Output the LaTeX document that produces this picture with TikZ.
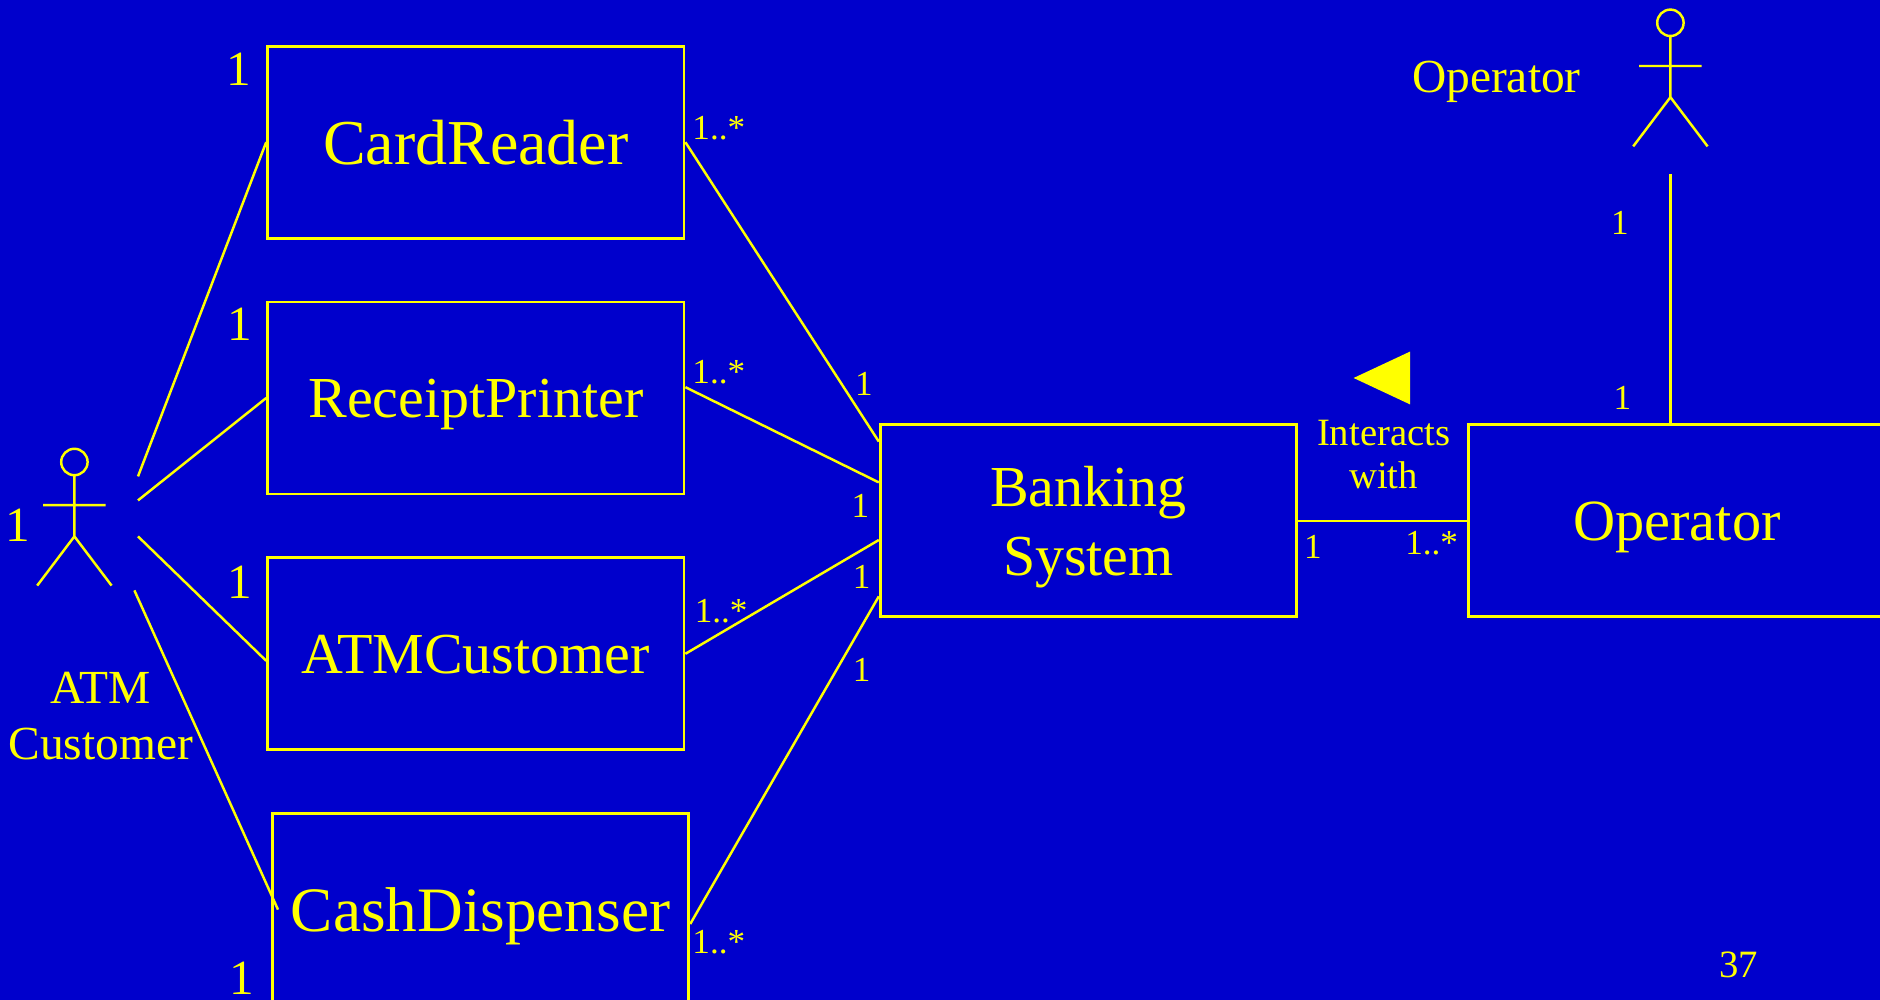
\documentclass[tikz,border=0pt]{standalone}
\usepackage{fontspec}
\setmainfont{Liberation Serif}
\usetikzlibrary{matrix}
\definecolor{slideblue}{RGB}{0,0,204}
\definecolor{umlyellow}{RGB}{255,255,0}

\begin{document}
\begin{tikzpicture}[
    box/.style={draw=umlyellow, line width=0.8pt, text=umlyellow, text depth=0pt,
      minimum width=4.164cm, minimum height=1.92cm, font=\fontsize{16.5}{19.8}\selectfont},
    mult/.style={text=umlyellow, inner sep=0pt, font=\fontsize{10}{12}\selectfont},
    bigmult/.style={text=umlyellow, inner sep=0pt, font=\fontsize{14}{16}\selectfont},
    actorlabel/.style={text=umlyellow, inner sep=0pt, align=center, font=\fontsize{13.5}{16}\selectfont},
    assoc/.style={draw=umlyellow, line width=0.7pt},
    actor/.pic={
      \draw[umlyellow, line width=0.7pt] (0,0) circle (0.132)
        (0,-0.144) -- (0,-0.744) (-0.312,-0.432) -- (0.312,-0.432)
        (-0.372,-1.236) -- (0,-0.744) -- (0.372,-1.236);
    }
  ]
  \useasboundingbox (0,0) rectangle (18.8,-10);
  \clip (0,0) rectangle (18.8,-10);
  \fill[slideblue] (0,0) rectangle (18.8,-10);

  \matrix (m) [matrix of nodes, row sep=0.61cm, nodes={box}] at (4.782,-5.259)
  {
    |[font=\fontsize{18.2}{20}\selectfont](card)| CardReader \\
    |(printer)| ReceiptPrinter \\
    |(atmc)| ATMCustomer \\
    |[xshift=0.048cm, font=\fontsize{18}{20}\selectfont](cash)| CashDispenser \\};
  \node[box, align=center] (bank) at (10.884,-5.208) {Banking\\System};
  \node[box, font=\fontsize{16.6}{20}\selectfont] (oper) at (16.77,-5.208) {Operator};

  % actors
  \pic at (0.744,-4.62) {actor};
  \pic at (16.704,-0.228) {actor};
  \node[actorlabel] (custlabel) at (1.008,-7.164) {ATM\\Customer};
  \node[actorlabel] (oplabel) at (14.964,-0.816) {Operator};
  \coordinate (c1) at (1.38,-4.764);
  \coordinate (c2) at (1.38,-5.004);
  \coordinate (c3) at (1.38,-5.364);
  \coordinate (c4) at (1.344,-5.904);
  \coordinate (opfoot) at (16.704,-1.74);

  \path[assoc]
    (c1) edge (card.west)
    (c2) edge (printer.west)
    (c3) edge ([yshift=-0.07cm]atmc.west)
    (c4) edge ([xshift=0.07cm]cash.west)
    (card.east) edge ([yshift=0.792cm]bank.west)
    ([yshift=0.108cm]printer.east) edge ([yshift=0.384cm]bank.west)
    (atmc.east) edge ([yshift=-0.192cm]bank.west)
    ([yshift=-0.144cm]cash.east) edge ([yshift=-0.756cm]bank.west)
    (bank.east) edge (oper.west)
    (opfoot) edge (opfoot |- oper.north);

  % multiplicities
  \node[bigmult] at (0.18,-5.256) {1};
  \node[bigmult] at (2.388,-0.696) {1};
  \node[bigmult] at (2.4,-3.24) {1};
  \node[bigmult] at (2.4,-5.82) {1};
  \node[bigmult] at (2.42,-9.78) {1};
  \node[mult] at (7.188,-1.284) {1..*};
  \node[mult] at (7.188,-3.72) {1..*};
  \node[mult] at (7.212,-6.108) {1..*};
  \node[mult] at (7.188,-9.42) {1..*};
  \node[mult] at (8.64,-3.84) {1};
  \node[mult] at (8.604,-5.064) {1};
  \node[mult] at (8.616,-5.772) {1};
  \node[mult] at (8.616,-6.696) {1};
  \node[mult] at (13.128,-5.472) {1};
  \node[mult] at (14.316,-5.436) {1..*};
  \node[mult] at (16.2,-2.232) {1};
  \node[mult] at (16.224,-3.984) {1};

  \node[mult, align=center, font=\fontsize{11}{12.3}\selectfont] (assoclabel) at (13.836,-4.548) {Interacts\\with};
  \fill[umlyellow] (13.536,-3.78) -- (14.1,-3.516) -- (14.1,-4.044) -- cycle;
  \node[mult, font=\fontsize{11}{13}\selectfont] (pageno) at (17.388,-9.648) {37};
\end{tikzpicture}
\end{document}
